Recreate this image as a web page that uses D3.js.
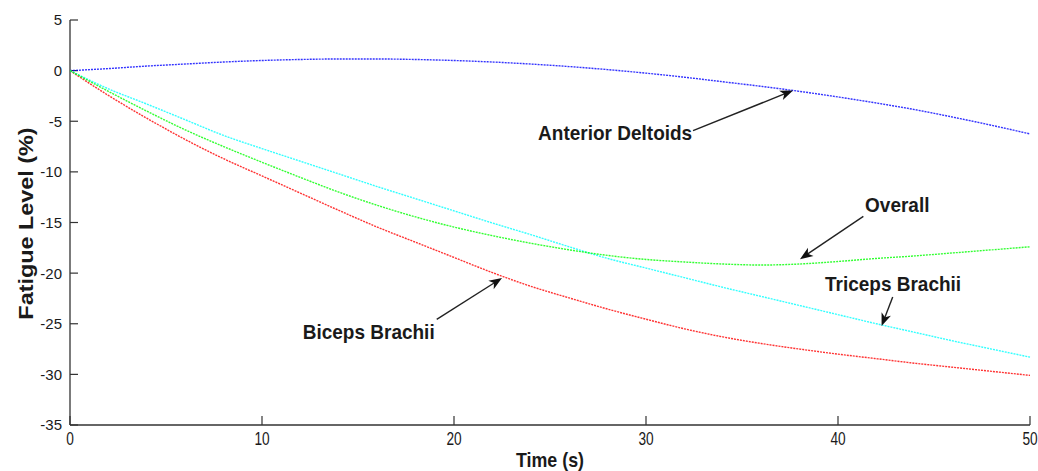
<!DOCTYPE html>
<html>
<head>
<meta charset="utf-8">
<script src="https://cdn.jsdelivr.net/npm/d3@7"></script>
<style>
  html, body { margin: 0; padding: 0; background: #fff; }
  svg { display: block; font-family: "Liberation Sans", Arial, Helvetica, sans-serif; }
</style>
</head>
<body>
<svg id="chart" width="1038" height="471"></svg>
<script>
// ---- data ----
const time = [0,2,4,6,8,10,12,14,16,18,20,22,24,26,28,30,32,34,36,38,40,42,44,46,48,50];
const anteriorDeltoids = [0,0.2,0.45,0.65,0.85,1.0,1.1,1.15,1.15,1.1,1.0,0.85,0.65,0.4,0.1,-0.25,-0.65,-1.1,-1.55,-2.05,-2.6,-3.2,-3.85,-4.6,-5.4,-6.25];
const bicepsBrachii = [0,-2.45,-4.7,-6.8,-8.7,-10.4,-12.1,-13.8,-15.45,-16.95,-18.45,-19.95,-21.3,-22.45,-23.55,-24.55,-25.5,-26.3,-26.95,-27.5,-28.0,-28.45,-28.9,-29.3,-29.7,-30.1];
const tricepsBrachii = [0,-1.8,-3.3,-4.85,-6.4,-7.7,-8.95,-10.2,-11.45,-12.65,-13.85,-15.05,-16.2,-17.4,-18.55,-19.5,-20.45,-21.4,-22.3,-23.2,-24.1,-25.0,-25.85,-26.7,-27.5,-28.3];
const overall = [0,-2.05,-4.0,-5.85,-7.5,-9.05,-10.55,-12.0,-13.3,-14.45,-15.45,-16.3,-17.05,-17.7,-18.25,-18.65,-18.9,-19.1,-19.2,-19.1,-18.85,-18.55,-18.3,-18.0,-17.7,-17.4];
const xTicks = [0,10,20,30,40,50];
const yTicks = [5,0,-5,-10,-15,-20,-25,-30,-35];
const seriesNames = ["Anterior Deltoids","Biceps Brachii","Triceps Brachii","Overall"];
const seriesColors = ["#0000ff","#ff0000","#00ffff","#00ff00"];
// annotation: label, text anchor (t,v), arrow tail (t,v), arrow tip (t,v)
const annLabels = ["Anterior Deltoids","Overall","Triceps Brachii","Biceps Brachii"];
const annText = [[24.38,-6.81],[41.41,-14.0],[39.32,-21.76],[12.12,-26.54]];
const annTail = [[32.45,-5.92],[41.32,-14.4],[42.85,-22.36],[19.1,-24.56]];
const annTip = [[37.66,-1.96],[38.02,-18.62],[42.27,-25.23],[22.5,-20.48]];

const seriesValues = [anteriorDeltoids, bicepsBrachii, tricepsBrachii, overall];

const svg = d3.select("#chart");
const x = d3.scaleLinear().domain([0,50]).range([70,1030]);
const y = d3.scaleLinear().domain([-35,5]).range([425,20]);

// axes
const axisColor = "#333";
const textColor = "#1a1a1a";
const gx = svg.append("g").attr("transform","translate(0,425)");
gx.append("line").attr("x1",x(0)).attr("x2",x(50)).attr("stroke",axisColor).attr("stroke-width",1.3);
xTicks.forEach(t => {
  gx.append("line").attr("x1",x(t)).attr("x2",x(t)).attr("y1",0).attr("y2",-9).attr("stroke",axisColor).attr("stroke-width",1.2);
  gx.append("text").attr("transform",`translate(${x(t)},20) scale(0.72,1)`)
    .attr("text-anchor","middle").attr("font-size",19).attr("fill",textColor).text(t);
});
svg.append("text").attr("transform",`translate(${x(25)},467) scale(0.85,1)`)
  .attr("text-anchor","middle").attr("font-size",21).attr("font-weight","bold").attr("fill",textColor).text("Time (s)");

const gy = svg.append("g").attr("transform","translate(70,0)");
gy.append("line").attr("y1",y(-35)).attr("y2",y(5)).attr("stroke",axisColor).attr("stroke-width",1.3);
yTicks.forEach(v => {
  gy.append("line").attr("x1",0).attr("x2",8).attr("y1",y(v)).attr("y2",y(v)).attr("stroke",axisColor).attr("stroke-width",1.2);
  gy.append("text").attr("x",-8).attr("y",y(v)).attr("dy","0.36em")
    .attr("text-anchor","end").attr("font-size",15).attr("fill",textColor).text(v);
});
svg.append("text").attr("transform",`translate(33,${y(-15)+1}) rotate(-90) scale(1.17,1)`)
  .attr("text-anchor","middle").attr("font-size",20).attr("font-weight","bold").attr("fill",textColor).text("Fatigue Level (%)");

// lines
const line = d3.line().x((d,i) => x(time[i])).y(d => y(d)).curve(d3.curveMonotoneX);
seriesValues.forEach((vals, k) => {
  svg.append("path").datum(vals).attr("d", line)
    .attr("fill","none").attr("stroke",seriesColors[k]).attr("stroke-width",1.4)
    .attr("stroke-dasharray","2,1").attr("opacity",0.8)
    .attr("class","series").attr("data-name",seriesNames[k]);
});

// annotations
annLabels.forEach((lab, i) => {
  const [tx, ty] = [x(annText[i][0]), y(annText[i][1])];
  svg.append("text").attr("transform",`translate(${tx},${ty}) scale(0.95,1)`)
    .attr("font-size",20).attr("font-weight","bold").attr("fill",textColor).text(lab);
  const x0 = x(annTail[i][0]), y0 = y(annTail[i][1]);
  const x1 = x(annTip[i][0]), y1 = y(annTip[i][1]);
  const ang = Math.atan2(y1 - y0, x1 - x0) * 180 / Math.PI;
  const len = Math.hypot(x1 - x0, y1 - y0);
  svg.append("line").attr("x1",x0).attr("y1",y0)
    .attr("x2",x0 + (x1-x0)*(len-8)/len).attr("y2",y0 + (y1-y0)*(len-8)/len)
    .attr("stroke","#222").attr("stroke-width",1.4);
  svg.append("path").attr("d","M0,0 L-13,-5 L-9.5,0 L-13,5 Z")
    .attr("transform",`translate(${x1},${y1}) rotate(${ang})`).attr("fill","#111");
});
</script>
</body>
</html>
